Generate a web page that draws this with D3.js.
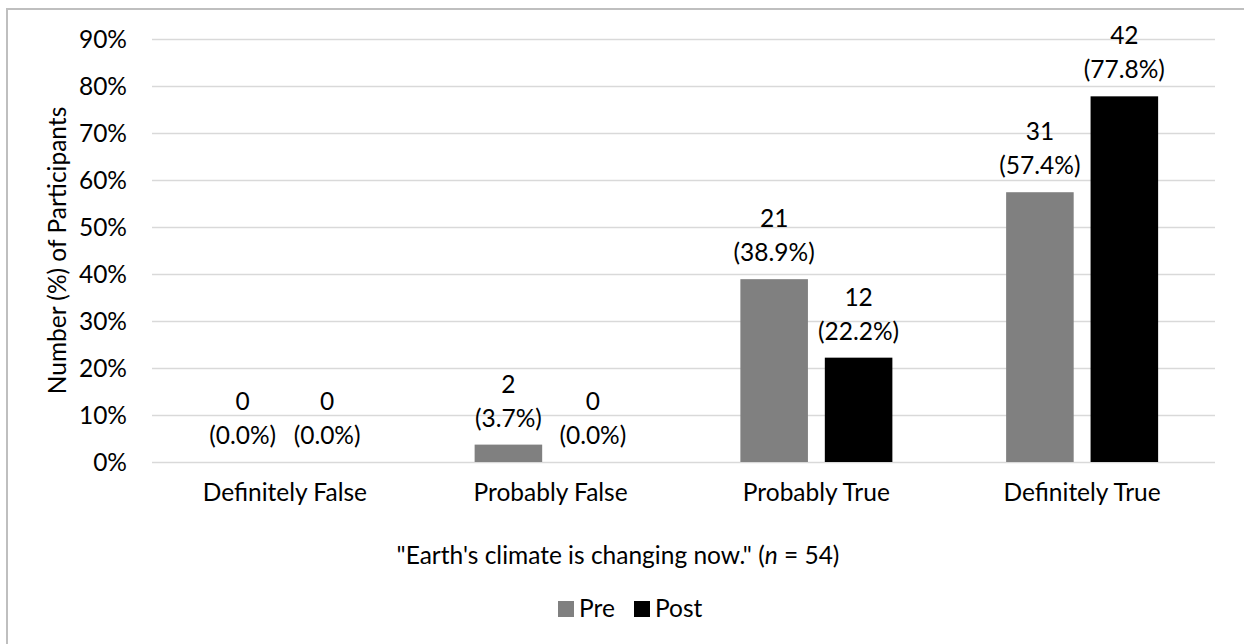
<!doctype html>
<html lang="en">

<head>
  <meta charset="UTF-8">
  <title>Earth's climate is changing now</title>
  <script type="text/javascript" src="https://cdn.jsdelivr.net/npm/d3@7"></script>
  <style>
    body {
      margin: 0;
      background: #fff;
    }

    text {
      font-family: Lato, "Open Sans", sans-serif;
      font-size: 24.5px;
      fill: #000;
    }

    .grid line {
      stroke: #d9d9d9;
      stroke-width: 1.5px;
    }

    .grid path {
      display: none;
    }
  </style>
</head>

<body>

</body>
<script type="text/javascript">
  var categories = ["Definitely False", "Probably False", "Probably True", "Definitely True"];
  var seriesNames = ["Pre", "Post"];
  var preCounts = [0, 2, 21, 31];
  var postCounts = [0, 0, 12, 42];
  var prePercents = [0.0, 3.7, 38.9, 57.4];
  var postPercents = [0.0, 0.0, 22.2, 77.8];
  var yTicks = [0, 10, 20, 30, 40, 50, 60, 70, 80, 90];
  var colors = ["#808080", "#000000"];

  var width = 1244,
    height = 644;

  var plot = {
    left: 152,
    right: 1215,
    top: 39,
    bottom: 462
  };

  var svg = d3.select("body").append("svg")
    .attr("width", width)
    .attr("height", height);

  // chart border (only the top and left edges are in frame)
  svg.append("path")
    .attr("d", "M7," + (height + 5) + "V9H" + (width + 5))
    .attr("fill", "none")
    .attr("stroke", "#bfbfbf")
    .attr("stroke-width", 2);

  var xScale = d3.scaleBand()
    .domain(categories)
    .range([plot.left, plot.right]);

  var xInner = d3.scaleBand()
    .domain(seriesNames)
    .range([xScale.bandwidth() / 2 - 76, xScale.bandwidth() / 2 + 76])
    .paddingInner(0.2);

  var yScale = d3.scaleLinear()
    .domain([0, 90])
    .range([plot.bottom, plot.top]);

  // gridlines
  svg.append("g")
    .attr("class", "grid")
    .attr("transform", "translate(" + plot.left + ",0)")
    .call(d3.axisLeft(yScale)
      .tickValues(yTicks)
      .tickSize(-(plot.right - plot.left))
      .tickFormat(""));

  // y tick labels
  svg.append("g")
    .selectAll("text")
    .data(yTicks)
    .enter().append("text")
    .attr("x", 127)
    .attr("y", function(d) {
      return yScale(d);
    })
    .attr("dy", "0.36em")
    .attr("text-anchor", "end")
    .text(function(d) {
      return d + "%";
    });

  // x category labels
  svg.append("g")
    .selectAll("text")
    .data(categories)
    .enter().append("text")
    .attr("x", function(d) {
      return xScale(d) + xScale.bandwidth() / 2;
    })
    .attr("y", 501)
    .attr("text-anchor", "middle")
    .text(function(d) {
      return d;
    });

  var rows = [];
  categories.forEach(function(c, i) {
    rows.push({ cat: c, series: "Pre", count: preCounts[i], pct: prePercents[i], color: colors[0] });
    rows.push({ cat: c, series: "Post", count: postCounts[i], pct: postPercents[i], color: colors[1] });
  });

  var bars = svg.append("g");

  bars.selectAll("rect")
    .data(rows)
    .enter().append("rect")
    .attr("x", function(d) {
      return xScale(d.cat) + xInner(d.series);
    })
    .attr("y", function(d) {
      return yScale(d.pct);
    })
    .attr("width", xInner.bandwidth())
    .attr("height", function(d) {
      return yScale(0) - yScale(d.pct);
    })
    .attr("fill", function(d) {
      return d.color;
    });

  var labels = bars.selectAll("text.label")
    .data(rows)
    .enter().append("text")
    .attr("class", "label")
    .attr("text-anchor", "middle")
    .attr("x", function(d) {
      return xScale(d.cat) + xInner(d.series) + xInner.bandwidth() / 2;
    })
    .attr("y", function(d) {
      return yScale(d.pct) - 18;
    });

  labels.append("tspan")
    .attr("x", function(d) {
      return xScale(d.cat) + xInner(d.series) + xInner.bandwidth() / 2;
    })
    .attr("dy", "-34")
    .text(function(d) {
      return d.count;
    });

  labels.append("tspan")
    .attr("x", function(d) {
      return xScale(d.cat) + xInner(d.series) + xInner.bandwidth() / 2;
    })
    .attr("dy", "34")
    .text(function(d) {
      return "(" + d.pct.toFixed(1) + "%)";
    });

  // y axis title
  svg.append("text")
    .attr("transform", "translate(66," + ((plot.top + plot.bottom) / 2) + ") rotate(-90)")
    .attr("text-anchor", "middle")
    .text("Number (%) of Participants");

  // x axis title
  var xTitle = svg.append("text")
    .attr("x", 618)
    .attr("y", 564)
    .attr("text-anchor", "middle");
  xTitle.append("tspan").text("\"Earth's climate is changing now.\" (");
  xTitle.append("tspan").attr("font-style", "italic").text("n");
  xTitle.append("tspan").text(" = 54)");

  // legend
  var legend = svg.append("g")
    .attr("transform", "translate(558,601)");

  var legendX = [0, 76];
  var items = legend.selectAll("g")
    .data(seriesNames)
    .enter().append("g")
    .attr("transform", function(d, i) {
      return "translate(" + legendX[i] + ",0)";
    });

  items.append("rect")
    .attr("width", 16)
    .attr("height", 16)
    .attr("fill", function(d, i) {
      return colors[i];
    });

  items.append("text")
    .attr("x", 21)
    .attr("y", 16)
    .text(function(d) {
      return d;
    });
</script>

</html>
